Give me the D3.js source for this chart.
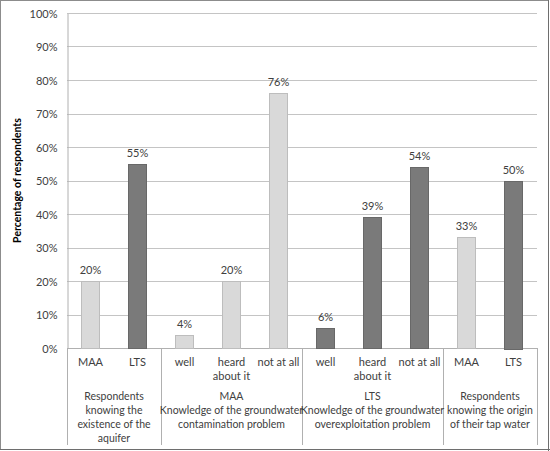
<!DOCTYPE html>
<html><head><meta charset="utf-8">
<script src="https://cdn.jsdelivr.net/npm/d3@7"></script>
<style>body{margin:0;background:#fff;}svg{display:block;font-family:Lato,"Liberation Sans",sans-serif;}</style>
</head><body>
<svg id="c" width="550" height="451"></svg>
<script>
const categories = ["MAA","LTS","well","heard about it","not at all","well","heard about it","not at all","MAA","LTS"];
const values = [20,55,4,20,76,6,39,54,33,50];
const series = ["MAA","LTS","MAA","MAA","MAA","LTS","LTS","LTS","MAA","LTS"];
const groups = [
  {label:["Respondents","knowing the","existence of the","aquifer"], start:0, end:2},
  {label:["MAA","Knowledge of the groundwater","contamination problem"], start:2, end:5},
  {label:["LTS","Knowledge of the groundwater","overexploitation problem"], start:5, end:8},
  {label:["Respondents","knowing the origin","of their tap water"], start:8, end:10}
];
const yTicks = [0,10,20,30,40,50,60,70,80,90,100];

const svg = d3.select("#c");
const L=67, R=537, T=13, B=348;
const x = d3.scaleBand().domain(d3.range(categories.length)).range([L,R]).paddingInner(0.6).paddingOuter(0.3);
const y = d3.scaleLinear().domain([0,100]).range([B,T]);
const step = (R-L)/categories.length;
const txt="#404040";
const fs="11px";

// outer border
svg.append("rect").attr("x",0.5).attr("y",0.5).attr("width",548).attr("height",449)
  .attr("fill","none").attr("stroke","#8c8c8c");
svg.append("line").attr("x1",0).attr("x2",550).attr("y1",449.5).attr("y2",449.5).attr("stroke","#6e6e6e");
svg.append("line").attr("x1",548.5).attr("x2",548.5).attr("y1",0).attr("y2",451).attr("stroke","#6e6e6e");

// gridlines
svg.append("g").selectAll("line").data(yTicks.filter(d=>d>0)).join("line")
  .attr("x1",L).attr("x2",R).attr("y1",d=>Math.round(y(d))+0.5).attr("y2",d=>Math.round(y(d))+0.5)
  .attr("stroke","#c4c4c4");

// y axis
const ya = d3.axisLeft(y).tickValues(yTicks).tickFormat(d=>d+"%").tickSize(0).tickPadding(10);
const gy = svg.append("g").attr("transform",`translate(${L+0.5},0.5)`).call(ya);
gy.select(".domain").attr("stroke","#b0b0b0");
gy.selectAll("text").attr("fill",txt).style("font-size",fs).style("font-family","Lato,sans-serif");

// x baseline
svg.append("line").attr("x1",L).attr("x2",R).attr("y1",B+0.5).attr("y2",B+0.5).attr("stroke","#b0b0b0");

// group separators
const seps = [0,2,5,8,10];
svg.append("g").selectAll("line").data(seps).join("line")
  .attr("x1",d=>Math.round(L+d*step)+0.5).attr("x2",d=>Math.round(L+d*step)+0.5)
  .attr("y1",B).attr("y2",445).attr("stroke","#b0b0b0");

// bars
const fill = s => s==="MAA" ? "#d9d9d9" : "#7a7a7a";
const stroke = s => s==="MAA" ? "#bdbdbd" : "#686868";
svg.append("g").selectAll("rect").data(values).join("rect")
  .attr("x",(d,i)=>Math.round(x(i))+0.5).attr("width",Math.round(x.bandwidth())-1)
  .attr("y",d=>Math.round(y(d))+0.5).attr("height",d=>Math.round(B-y(d)))
  .attr("fill",(d,i)=>fill(series[i])).attr("stroke",(d,i)=>stroke(series[i]));

// value labels
svg.append("g").selectAll("text").data(values).join("text")
  .attr("x",(d,i)=>x(i)+x.bandwidth()/2).attr("y",d=>y(d)-7)
  .attr("text-anchor","middle").attr("fill",txt).style("font-size",fs)
  .text(d=>d+"%");

// category labels
categories.forEach((c,i)=>{
  const lines = c==="heard about it" ? ["heard","about it"] : [c];
  lines.forEach((ln,j)=>{
    svg.append("text").attr("x",x(i)+x.bandwidth()/2).attr("y",366+j*14)
      .attr("text-anchor","middle").attr("fill",txt).style("font-size",fs).text(ln);
  });
});

// group labels
groups.forEach(g=>{
  const cx = L+(g.start+g.end)/2*step;
  g.label.forEach((ln,j)=>{
    svg.append("text").attr("x",cx).attr("y",400+j*14)
      .attr("text-anchor","middle").attr("fill",txt).style("font-size","10.5px").text(ln);
  });
});

// y title
svg.append("text").attr("transform",`translate(21,${(T+B)/2}) rotate(-90)`)
  .attr("text-anchor","middle").attr("fill","#000").style("font-size","10.5px").style("font-weight","bold")
  .text("Percentage of respondents");
</script>
</body></html>
